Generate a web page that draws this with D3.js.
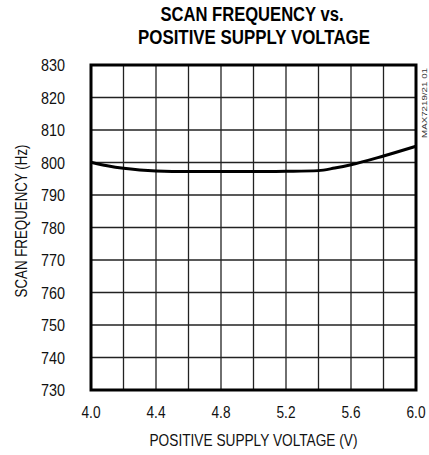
<!DOCTYPE html>
<html>
<head>
<meta charset="utf-8">
<script src="https://cdn.jsdelivr.net/npm/d3@7"></script>
<style>
  body { margin: 0; background: #fff; }
  text { font-family: "Liberation Sans", Arial, sans-serif; }
</style>
</head>
<body>
<div id="chart"></div>
<script>
// supply voltage (V) and scan frequency (Hz)
const voltage = [4.0, 4.1, 4.2, 4.3, 4.4, 4.6, 4.8, 5.0, 5.2, 5.4, 5.5, 5.6, 5.8, 6.0];
const frequency = [800.1, 799.0, 798.2, 797.7, 797.4, 797.2, 797.2, 797.2, 797.3, 797.5, 798.3, 799.3, 802.0, 805.0];

const xTicks = [4.0, 4.4, 4.8, 5.2, 5.6, 6.0];
const yTicks = [730, 740, 750, 760, 770, 780, 790, 800, 810, 820, 830];

const W = 429, H = 455;
const margin = { top: 65, right: 13, bottom: 65, left: 91 };
const width = W - margin.left - margin.right;
const height = H - margin.top - margin.bottom;

const svg = d3.select("#chart")
    .append("svg")
    .attr("width", W)
    .attr("height", H);

const g = svg.append("g")
    .attr("transform", `translate(${margin.left}, ${margin.top})`);

const x = d3.scaleLinear().domain([4.0, 6.0]).range([0, width]);
const y = d3.scaleLinear().domain([730, 830]).range([height, 0]);

// grid: every 0.2 V and every 10 Hz
g.selectAll("line.vgrid")
    .data(d3.range(1, 10).map(i => 4.0 + i * 0.2))
    .join("line")
    .attr("class", "vgrid")
    .attr("x1", d => x(d)).attr("x2", d => x(d))
    .attr("y1", 0).attr("y2", height)
    .attr("stroke", "#222")
    .attr("stroke-width", 1.3);

g.selectAll("line.hgrid")
    .data(yTicks.slice(1, -1))
    .join("line")
    .attr("class", "hgrid")
    .attr("x1", 0).attr("x2", width)
    .attr("y1", d => y(d)).attr("y2", d => y(d))
    .attr("stroke", "#222")
    .attr("stroke-width", 1.3);

// curve
const line = d3.line()
    .x((d, i) => x(voltage[i]))
    .y(d => y(d))
    .curve(d3.curveMonotoneX);

g.append("path")
    .datum(frequency)
    .attr("d", line)
    .attr("fill", "none")
    .attr("stroke", "#000")
    .attr("stroke-width", 3);

// frame
g.append("rect")
    .attr("width", width)
    .attr("height", height)
    .attr("fill", "none")
    .attr("stroke", "#000")
    .attr("stroke-width", 3);

// tick labels
g.selectAll("text.ylab")
    .data(yTicks)
    .join("text")
    .attr("class", "ylab")
    .attr("x", -26)
    .attr("y", d => y(d) + 6)
    .attr("text-anchor", "end")
    .attr("textLength", 24)
    .attr("lengthAdjust", "spacingAndGlyphs")
    .style("font-size", "17px")
    .style("fill", "#111")
    .text(d => d);

g.selectAll("text.xlab")
    .data(xTicks)
    .join("text")
    .attr("class", "xlab")
    .attr("x", d => x(d))
    .attr("y", height + 28)
    .attr("text-anchor", "middle")
    .attr("textLength", 19)
    .attr("lengthAdjust", "spacingAndGlyphs")
    .style("font-size", "17px")
    .style("fill", "#111")
    .text(d => d.toFixed(1));

// axis titles
svg.append("text")
    .attr("x", margin.left + width / 2)
    .attr("y", 446)
    .attr("text-anchor", "middle")
    .attr("textLength", 208)
    .attr("lengthAdjust", "spacingAndGlyphs")
    .style("font-size", "17px")
    .style("fill", "#111")
    .text("POSITIVE SUPPLY VOLTAGE (V)");

svg.append("text")
    .attr("transform", `translate(27, 221) rotate(-90)`)
    .attr("text-anchor", "middle")
    .attr("textLength", 153)
    .attr("lengthAdjust", "spacingAndGlyphs")
    .style("font-size", "17px")
    .style("fill", "#111")
    .text("SCAN FREQUENCY (Hz)");

// title
svg.append("text")
    .attr("x", 252).attr("y", 21)
    .attr("text-anchor", "middle")
    .attr("textLength", 183)
    .attr("lengthAdjust", "spacingAndGlyphs")
    .style("font-size", "20px")
    .style("font-weight", "bold")
    .text("SCAN FREQUENCY vs.");

svg.append("text")
    .attr("x", 254).attr("y", 44)
    .attr("text-anchor", "middle")
    .attr("textLength", 232)
    .attr("lengthAdjust", "spacingAndGlyphs")
    .style("font-size", "20px")
    .style("font-weight", "bold")
    .text("POSITIVE SUPPLY VOLTAGE");

// part number
svg.append("text")
    .attr("transform", "translate(427, 68) rotate(-90)")
    .attr("text-anchor", "end")
    .attr("textLength", 70)
    .attr("lengthAdjust", "spacingAndGlyphs")
    .style("font-size", "8px")
    .style("fill", "#333")
    .text("MAX7219/21 01");
</script>
</body>
</html>
